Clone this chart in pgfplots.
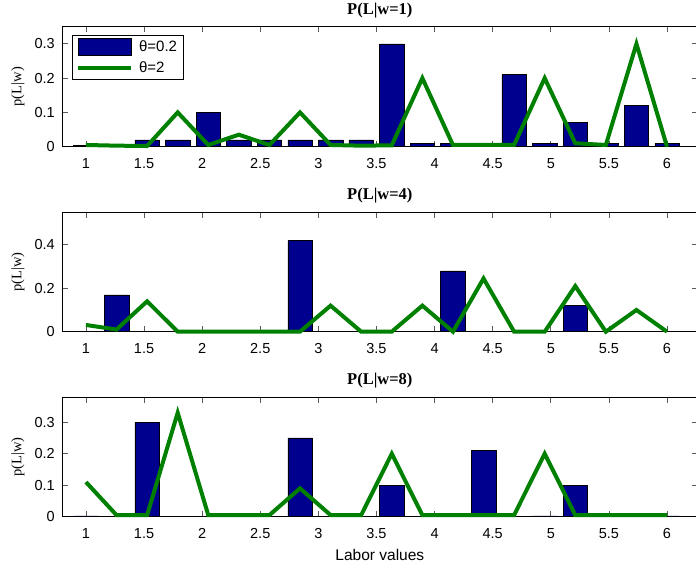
\documentclass[border=0pt]{standalone}
\usepackage{fontspec}
\setmainfont{Liberation Sans}
\newfontfamily\serifrm{Liberation Serif}
\usepackage{pgfplots}
\pgfplotsset{compat=1.18}
\usepackage{pgfplotstable}

\definecolor{mblue}{RGB}{0,0,143}
\definecolor{mgreen}{RGB}{0,128,0}

% x = linspace(1,6,20); b = theta 0.2 (bars); l = theta 2 (line)
\pgfplotstableread{
x b l
1.0000 0.004 0.005
1.2632 0.000 0.003
1.5263 0.020 0.002
1.7895 0.020 0.100
2.0526 0.100 0.005
2.3158 0.020 0.035
2.5789 0.020 0.005
2.8421 0.020 0.100
3.1053 0.020 0.005
3.3684 0.020 0.003
3.6316 0.300 0.004
3.8947 0.010 0.200
4.1579 0.010 0.005
4.4211 0.003 0.005
4.6842 0.210 0.005
4.9474 0.010 0.200
5.2105 0.070 0.010
5.4737 0.010 0.005
5.7368 0.120 0.300
6.0000 0.010 0.000
}\wone

\pgfplotstableread{
x b l
1.0000 0.000 0.031
1.2632 0.170 0.010
1.5263 0.000 0.140
1.7895 0.000 0.000
2.0526 0.000 0.000
2.3158 0.000 0.000
2.5789 0.000 0.000
2.8421 0.420 0.000
3.1053 0.000 0.120
3.3684 0.000 0.000
3.6316 0.000 0.000
3.8947 0.000 0.120
4.1579 0.280 0.000
4.4211 0.000 0.245
4.6842 0.000 0.000
4.9474 0.000 0.000
5.2105 0.120 0.210
5.4737 0.000 0.000
5.7368 0.000 0.100
6.0000 0.000 0.000
}\wfour

\pgfplotstableread{
x b l
1.0000 0.003 0.110
1.2632 0.000 0.005
1.5263 0.300 0.005
1.7895 0.002 0.330
2.0526 0.000 0.005
2.3158 0.000 0.005
2.5789 0.000 0.005
2.8421 0.250 0.090
3.1053 0.000 0.005
3.3684 0.000 0.005
3.6316 0.100 0.200
3.8947 0.000 0.005
4.1579 0.000 0.005
4.4211 0.210 0.005
4.6842 0.000 0.005
4.9474 0.003 0.200
5.2105 0.100 0.005
5.4737 0.000 0.005
5.7368 0.000 0.005
6.0000 0.003 0.005
}\weight

\pgfplotsset{
  mstyle/.style={
    scale only axis, width=634.3pt,
    xmin=0.8, xmax=6.258, ymin=0,
    clip=false,
    xtick={1,1.5,2,2.5,3,3.5,4,4.5,5,5.5,6},
    xticklabels={1,1.5,2,2.5,3,3.5,4,4.5,5,5.5,6},
    tick align=inside, tick pos=both,
    xticklabel pos=lower, yticklabel pos=left,
    major tick length=5.5pt,
    every tick/.style={black!65, line width=0.8pt},
    axis line style={black, line width=1.1pt},
    tick label style={font=\fontsize{14.5}{14.5}\selectfont},
    xticklabel style={anchor=center, inner sep=0pt, yshift=-17pt},
    yticklabel style={anchor=east, inner sep=0pt, xshift=-7.7pt},
    ylabel={\serifrm p(L|w)},
    ylabel style={font=\fontsize{14.5}{14.5}\selectfont, at={(axis description cs:-0.0705,0.5)}, anchor=center, rotate=0},
    title style={font=\fontsize{16.5}{16.5}\selectfont, at={(axis description cs:0.5,1)}, anchor=center, yshift=10.5pt},
  },
  barsty/.style={ybar, bar width=0.2105, bar shift=0pt, fill=mblue, draw=black, line width=0.5pt},
  linesty/.style={mgreen, line width=4pt, line join=miter, sharp plot},
}

\begin{document}
\begin{tikzpicture}
\path[use as bounding box] (0pt,0pt) rectangle (696pt,569pt);

\begin{axis}[mstyle, at={(62.7pt,422.3pt)}, anchor=south west, height=120pt,
  ymax=0.35, ytick={0,0.1,0.2,0.3}, yticklabels={0,0.1,0.2,0.3},
  title={\serifrm\bfseries P(L|w=1)},
  legend style={at={(axis description cs:0.0142,0.931)}, anchor=north west,
    draw=black, line width=0.8pt, fill=white, font=\fontsize{15}{15}\selectfont,
    inner xsep=4pt, inner ysep=3pt, row sep=4pt,
    /tikz/every odd column/.append style={column sep=4pt}},
  legend cell align=left]
\addplot[barsty, legend image code/.code={\draw[fill=mblue, draw=black, line width=0.5pt] (0pt,-8.5pt) rectangle (53pt,8.5pt);}] table[x=x, y=b] {\wone};
\addlegendentry{θ=0.2}
\addplot[linesty, legend image code/.code={\draw[mgreen, line width=4pt] (0pt,0pt) -- (53pt,0pt);}] table[x=x, y=l] {\wone};
\addlegendentry{θ=2}
\end{axis}

\begin{axis}[mstyle, at={(62.7pt,237.3pt)}, anchor=south west, height=119.4pt,
  ymax=0.55, ytick={0,0.2,0.4}, yticklabels={0,0.2,0.4},
  title={\serifrm\bfseries P(L|w=4)}]
\addplot[barsty] table[x=x, y=b] {\wfour};
\addplot[linesty] table[x=x, y=l] {\wfour};
\end{axis}

\begin{axis}[mstyle, at={(62.7pt,52.3pt)}, anchor=south west, height=119.4pt,
  ymax=0.379, ytick={0,0.1,0.2,0.3}, yticklabels={0,0.1,0.2,0.3},
  title={\serifrm\bfseries P(L|w=8)},
  xlabel={Labor values},
  xlabel style={font=\fontsize{15.5}{15.5}\selectfont, at={(axis description cs:0.5,0)}, anchor=center, yshift=-38pt}]
\addplot[barsty] table[x=x, y=b] {\weight};
\addplot[linesty] table[x=x, y=l] {\weight};
\end{axis}
\end{tikzpicture}
\end{document}
